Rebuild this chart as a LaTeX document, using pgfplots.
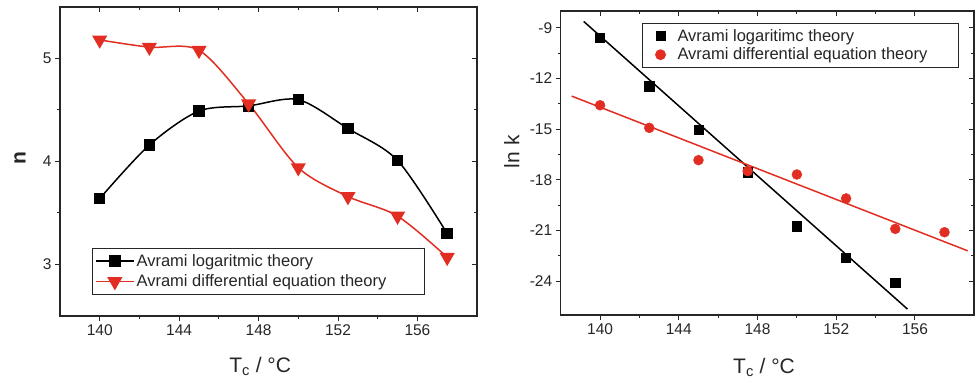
\documentclass[border=0pt]{standalone}
\usepackage{pgfplots}
\pgfplotsset{compat=1.18}
\usepackage{fontspec}
\setmainfont{Liberation Sans}
\definecolor{ored}{RGB}{226,46,34}
\pgfplotsset{
  base/.style={
    scale only axis,
    xmin=138, xmax=159,
    xtick={140,144,...,156},
    minor x tick num=1,
    axis line style={line width=1.1bp, black!85},
    every tick/.style={line width=1.0bp, black!85},
    major tick length=5bp,
    minor tick length=3bp,
    /pgf/number format/assume math mode=true,
    tick label style={font=\fontsize{15.5bp}{18bp}\selectfont, text=black!85},
  },
  frontticks/.style={tick pos=left, tick align=outside},
  backticks/.style={tick pos=right, tick align=inside, xticklabels={}, yticklabels={}},
  markleg/.style={legend image code/.code={\path[draw=none, fill=none] (0bp,0bp) -- (30bp,0bp); \draw[##1, /tikz/only marks, mark repeat=2, mark phase=2] plot coordinates {(0bp,0bp) (15bp,0bp) (30bp,0bp)};}},
}
\begin{document}
\begin{tikzpicture}
\useasboundingbox (0,0) rectangle (977bp,383bp);
% ---------------- left panel ----------------
\begin{axis}[base, frontticks,
  at={(60bp,67bp)}, anchor=south west,
  width=417bp, height=309bp,
  ymin=2.5, ymax=5.5, ytick={3,4,5}, minor y tick num=1,
  xlabel={T\textsubscript{c} / °C},
  ylabel={\bfseries n},
  label style={font=\fontsize{21bp}{24bp}\selectfont, text=black!85},
  xlabel style={at={(axis description cs:0.48,-0.184)}, anchor=base},
  ylabel style={at={(axis description cs:-0.096,0.511)}, anchor=center, rotate=0},
  legend style={at={(axis description cs:0.076,0.22)}, anchor=north west,
    draw=black!85, line width=0.8bp, inner xsep=3bp, inner ysep=4bp, row sep=3bp,
    font=\fontsize{16.5bp}{19bp}\selectfont, text=black!85,
    cells={anchor=west},
    /tikz/every even column/.append style={column sep=3bp}},
  legend cell align=left,
  legend image code/.code={\draw[mark repeat=2,mark phase=2,#1, line width=1.5bp] plot coordinates {(0bp,0bp) (19bp,0bp) (38bp,0bp)};},
]
\addplot[black, line width=1.5bp, smooth, tension=0.5, mark=square*, mark size=5bp, mark options={solid, fill=black}]
  coordinates {(140,3.64) (142.5,4.16) (145,4.49) (147.5,4.54) (150,4.60) (152.5,4.32) (155,4.01) (157.5,3.30)};
\addlegendentry{Avrami logaritmic theory}
\addplot[ored, line width=1.5bp, smooth, tension=0.5, mark=triangle*, mark size=7.3bp, mark options={solid, fill=ored, rotate=180}]
  coordinates {(140,5.18) (142.5,5.11) (145,5.08) (147.5,4.56) (150,3.94) (152.5,3.66) (155,3.47) (157.5,3.07)};
\addlegendentry{Avrami differential equation theory\rule{33bp}{0bp}}
\end{axis}
\begin{axis}[base, backticks,
  at={(60bp,67bp)}, anchor=south west,
  width=417bp, height=309bp,
  ymin=2.5, ymax=5.5, ytick={3,4,5}, minor y tick num=1]
\end{axis}
% ---------------- right panel ----------------
\begin{axis}[base, frontticks,
  at={(560.7bp,68bp)}, anchor=south west,
  width=413.3bp, height=304bp,
  ymin=-26, ymax=-8, ytick={-24,-21,...,-9}, minor y tick num=1,
  xlabel={T\textsubscript{c} / °C},
  ylabel={ln k},
  label style={font=\fontsize{21bp}{24bp}\selectfont, text=black!85},
  xlabel style={at={(axis description cs:0.492,-0.192)}, anchor=base},
  ylabel style={at={(axis description cs:-0.1186,0.537)}, anchor=center},
  legend style={at={(axis description cs:0.197,0.96)}, anchor=north west,
    draw=black!85, line width=0.8bp, inner xsep=3bp, inner ysep=4bp, row sep=1bp,
    font=\fontsize{16.5bp}{19bp}\selectfont, text=black!85,
    cells={anchor=west},
    /tikz/every even column/.append style={column sep=4bp}},
  legend cell align=left,
]
\addplot[black, line width=1.5bp, forget plot] coordinates {(139.17,-8.62) (155.62,-25.65)};
\addplot[ored, line width=1.5bp, forget plot] coordinates {(138.56,-13.04) (158.68,-22.2)};
\addplot[only marks, mark=square*, mark size=4.6bp, black, markleg]
  coordinates {(140,-9.6) (142.5,-12.45) (145,-15.02) (147.5,-17.54) (150,-20.74) (152.5,-22.6) (155,-24.1)};
\addlegendentry{Avrami logaritimc theory}
\addplot[only marks, mark=*, mark size=5bp, ored, markleg]
  coordinates {(140,-13.58) (142.5,-14.92) (145,-16.83) (147.5,-17.48) (150,-17.68) (152.5,-19.1) (155,-20.9) (157.5,-21.1)};
\addlegendentry{Avrami differential equation theory\rule{26bp}{0bp}}
\end{axis}
\begin{axis}[base, backticks,
  at={(560.7bp,68bp)}, anchor=south west,
  width=413.3bp, height=304bp,
  ymin=-26, ymax=-8, ytick={-24,-21,...,-9}, minor y tick num=1]
\end{axis}
\end{tikzpicture}
\end{document}
